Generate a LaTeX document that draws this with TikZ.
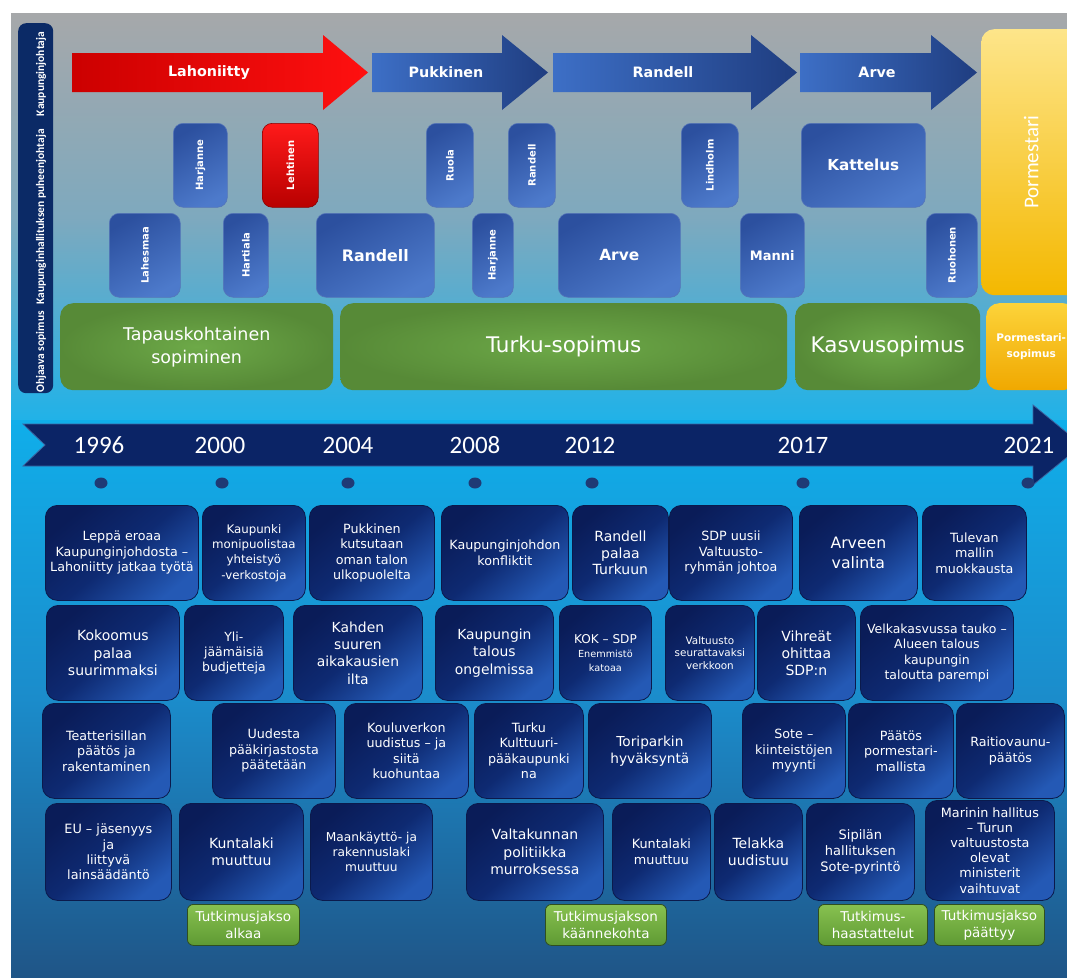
\documentclass[tikz,border=0pt]{standalone}
\usepackage{fontspec}
\setmainfont{DejaVu Sans}
\newfontfamily\calfont{Carlito}
\usetikzlibrary{shapes.geometric}

\definecolor{bgtop}{HTML}{A6A8AA}
\definecolor{bgmid}{HTML}{7EA9BE}
\definecolor{bgcyan}{HTML}{20B2E8}
\definecolor{bgcyantwo}{HTML}{10AEEA}
\definecolor{bglow}{HTML}{1B8CCB}
\definecolor{bgbottom}{HTML}{1F5587}
\definecolor{evdark}{HTML}{0A1C58}
\definecolor{evmid}{HTML}{0E2A72}
\definecolor{evlight}{HTML}{2459B5}
\definecolor{evedge}{HTML}{0B1A4C}
\definecolor{persontop}{HTML}{2C509F}
\definecolor{personbot}{HTML}{4D7ACB}
\definecolor{personedge}{HTML}{5575B8}
\definecolor{redtop}{HTML}{FF1A1A}
\definecolor{redbot}{HTML}{B80000}
\definecolor{reddeep}{HTML}{8A0000}
\definecolor{redleft}{HTML}{CC0000}
\definecolor{redright}{HTML}{FF1010}
\definecolor{blueleft}{HTML}{3D6FC6}
\definecolor{blueright}{HTML}{1F3D80}
\definecolor{pactin}{HTML}{6DA948}
\definecolor{pactout}{HTML}{578A37}
\definecolor{yeltop}{HTML}{FDE58A}
\definecolor{yelbot}{HTML}{F4B800}
\definecolor{yeltoptwo}{HTML}{FCD33A}
\definecolor{yelbottwo}{HTML}{F0A800}
\definecolor{phasetop}{HTML}{88C150}
\definecolor{phasebot}{HTML}{5E9A33}
\definecolor{phaseedge}{HTML}{2F4F20}
\definecolor{banddark}{HTML}{0B2466}
\definecolor{bandedge}{HTML}{3B63A0}
\definecolor{dotcol}{HTML}{1F3A75}
\definecolor{rolebarcol}{HTML}{0B2A66}

\newcommand{\evfont}{\fontsize{12.7}{15.5}\selectfont}

\tikzset{
  wh/.style 2 args={minimum width=#1pt, minimum height=#2pt},
  event/.style={draw=evedge, line width=0.8pt, rounded corners=12pt,
    top color=evdark, bottom color=evlight, middle color=evmid, shading angle=40,
    text=white, align=center, anchor=north west, inner sep=2pt, font=\evfont},
  person/.style={draw=personedge, line width=0.6pt, rounded corners=10pt,
    top color=persontop, bottom color=personbot, shading angle=30,
    text=white, align=center, anchor=north west, inner sep=1pt,
    font=\bfseries\fontsize{10}{12}\selectfont},
  redperson/.style={person, draw=reddeep, top color=redtop, bottom color=redbot},
  pact/.style={rounded corners=13pt, inner color=pactin, outer color=pactout,
    text=white, align=center, anchor=north west, font=\fontsize{17.5}{23}\selectfont},
  mayor/.style={rounded corners=13pt, top color=yeltop, bottom color=yelbot,
    text=white, align=center, anchor=north west},
  arrowtext/.style={text=white, font=\bfseries\fontsize{14.3}{16}\selectfont},
  year/.style={text=white, font=\calfont\fontsize{25}{25}\selectfont},
  dot/.style={ellipse, fill=dotcol, minimum width=13pt, minimum height=11pt, inner sep=0pt},
  phase/.style={draw=phaseedge, line width=0.8pt, rounded corners=6pt,
    top color=phasetop, bottom color=phasebot, text=white, align=center,
    anchor=north west, inner sep=1pt, font=\fontsize{13.5}{17}\selectfont},
  rolelabel/.style={text=white, font=\calfont\bfseries\fontsize{11.5}{12}\selectfont},
}

\begin{document}
\begin{tikzpicture}[x=1pt, y=-1pt]
\useasboundingbox (0,0) rectangle (1067,977);
\begin{scope}
\clip (11,13) rectangle (1067,977);
% background
\shade[top color=bgtop, bottom color=bgcyan, middle color=bgmid] (11,13) rectangle (1067,421);
\shade[top color=bgcyantwo, bottom color=bgbottom, middle color=bglow] (11,420) rectangle (1067,977);

% role bar
\node[fill=rolebarcol, rounded corners=8pt, anchor=north west, wh={35}{370}] (rolebar) at (18,23) {};
\node[rolelabel, rotate=90] (lbljohtaja) at (41,74) {Kaupunginjohtaja};
\node[rolelabel, rotate=90] (lblpj) at (41,217) {Kaupunginhallituksen puheenjohtaja};
\node[rolelabel, rotate=90] (lblsopimus) at (41,352) {Ohjaava sopimus};

% mayors
\path[left color=redleft, right color=redright] (72,53) -- (323,53) -- (323,35) -- (368,72.5) -- (323,110) -- (323,92) -- (72,92) -- cycle;
\path[left color=blueleft, right color=blueright] (372,53) -- (502,53) -- (502,35) -- (548,72.5) -- (502,110) -- (502,92) -- (372,92) -- cycle;
\path[left color=blueleft, right color=blueright] (553,53) -- (751,53) -- (751,35) -- (797,72.5) -- (751,110) -- (751,92) -- (553,92) -- cycle;
\path[left color=blueleft, right color=blueright] (800,53) -- (931,53) -- (931,35) -- (977,72.5) -- (931,110) -- (931,92) -- (800,92) -- cycle;
\node[arrowtext] (lahoniitty) at (209,72.5) {Lahoniitty};
\node[arrowtext] (pukkinen) at (446,72.5) {Pukkinen};
\node[arrowtext] (randell) at (663,72.5) {Randell};
\node[arrowtext] (arve) at (877,72.5) {Arve};

\node[mayor, wh={100}{266}, font=\calfont\fontsize{21}{21}\selectfont] (pormestari) at (981,29) {\rotatebox{90}{Pormestari}};

% chairs
\node[person, wh={54}{84}] (harjanne) at (173,123) {\rotatebox{90}{Harjanne}};
\node[redperson, wh={56}{84}] (lehtinen) at (262,123) {\rotatebox{90}{Lehtinen}};
\node[person, wh={47}{84}] (ruola) at (426,123) {\rotatebox{90}{Ruola}};
\node[person, wh={47}{84}] (randellpj) at (508,123) {\rotatebox{90}{Randell}};
\node[person, wh={57}{84}] (lindholm) at (681,123) {\rotatebox{90}{Lindholm}};
\node[person, wh={124}{84}, font=\bfseries\fontsize{15.2}{17}\selectfont] (kattelus) at (801,123) {Kattelus};
\node[person, wh={71}{84}] (lahesmaa) at (109,213) {\rotatebox{90}{Lahesmaa}};
\node[person, wh={45}{84}] (hartiala) at (223,213) {\rotatebox{90}{Hartiala}};
\node[person, wh={118}{84}, font=\bfseries\fontsize{15.8}{17}\selectfont] (randellb) at (316,213) {Randell};
\node[person, wh={41}{84}] (harjanneb) at (472,213) {\rotatebox{90}{Harjanne}};
\node[person, wh={122}{84}, font=\bfseries\fontsize{15.4}{17}\selectfont] (arveb) at (558,213) {Arve};
\node[person, wh={64}{84}, font=\bfseries\fontsize{13}{15}\selectfont] (manni) at (740,213) {Manni};
\node[person, wh={51}{84}] (ruohonen) at (926,213) {\rotatebox{90}{Ruohonen}};

% pacts
\node[pact, wh={273}{87}] (tapaus) at (60,303) {Tapauskohtainen\\sopiminen};
\node[pact, wh={447}{87}, font=\fontsize{21.5}{25}\selectfont] (turku) at (340,303) {Turku-sopimus};
\node[pact, wh={185}{87}, font=\fontsize{21.5}{25}\selectfont] (kasvu) at (795,303) {Kasvusopimus};
\node[mayor, top color=yeltoptwo, bottom color=yelbottwo, wh={90}{87},
  font=\bfseries\fontsize{10.5}{16}\selectfont] (pormsop) at (986,303) {Pormestari-\\sopimus};

% timeline
\path[draw=bandedge, fill=banddark, line width=0.8pt] (23,424) -- (1033,424) -- (1033,405) -- (1082,445) -- (1033,485) -- (1033,466) -- (23,466) -- (45,445) -- cycle;
\foreach \yr/\xpos/\dx in {1996/99/101, 2000/220/222, 2004/348/348, 2008/475/475, 2012/590/592, 2017/803/803, 2021/1029/1028}{
  \node[year] (y\yr) at (\xpos,445) {\yr};
  \node[dot] (d\yr) at (\dx,483) {};
}

% events
\node[event, wh={153}{95}] (leppa) at (45,505) {Leppä eroaa\\Kaupunginjohdosta –\\Lahoniitty jatkaa työtä};
\node[event, wh={103}{95}, font=\fontsize{11.8}{15.3}\selectfont] (verkostot) at (202,505) {Kaupunki\\monipuolistaa\\yhteistyö\\-verkostoja};
\node[event, wh={125}{95}] (kutsu) at (309,505) {Pukkinen\\kutsutaan\\oman talon\\ulkopuolelta};
\node[event, wh={127}{95}] (konflikti) at (441,505) {Kaupunginjohdon\\konfliktit};
\node[event, wh={96}{95}, font=\fontsize{14}{16.7}\selectfont] (palaa) at (572,505) {Randell\\palaa\\Turkuun};
\node[event, wh={123}{95}] (sdpjohto) at (669,505) {SDP uusii\\Valtuusto-\\ryhmän johtoa};
\node[event, wh={118}{95}, font=\fontsize{15.7}{20}\selectfont] (valinta) at (799,505) {Arveen\\valinta};
\node[event, wh={104}{95}] (muokkaus) at (922,505) {Tulevan\\mallin\\muokkausta};

\node[event, wh={133}{95}, font=\fontsize{14}{17.5}\selectfont] (kokoomus) at (46,605) {Kokoomus\\palaa\\suurimmaksi};
\node[event, wh={99}{95}, font=\fontsize{12.5}{15}\selectfont] (budjetit) at (184,605) {Yli-\\jäämäisiä\\budjetteja};
\node[event, wh={129}{95}, font=\fontsize{13.9}{17.3}\selectfont] (kahden) at (293,605) {Kahden\\suuren\\aikakausien\\ilta};
\node[event, wh={118}{95}, font=\fontsize{13.9}{17.3}\selectfont] (talous) at (435,605) {Kaupungin\\talous\\ongelmissa};
\node[event, wh={92}{95}, font=\fontsize{9.7}{14}\selectfont] (koksdp) at (559,605) {{\fontsize{12.1}{14}\selectfont KOK – SDP}\\Enemmistö\\katoaa};
\node[event, wh={89}{95}, font=\fontsize{10.4}{12.7}\selectfont] (seuranta) at (665,605) {Valtuusto\\seurattavaksi\\verkkoon};
\node[event, wh={98}{95}, font=\fontsize{14}{17}\selectfont] (vihreat) at (757,605) {Vihreät\\ohittaa\\SDP:n};
\node[event, wh={153}{95}, font=\fontsize{12.5}{15.3}\selectfont] (velka) at (860,605) {Velkakasvussa tauko –\\Alueen talous\\kaupungin\\taloutta parempi};

\node[event, wh={128}{95}] (teatteri) at (42,703) {Teatterisillan\\päätös ja\\rakentaminen};
\node[event, wh={123}{95}] (kirjasto) at (212,703) {Uudesta\\pääkirjastosta\\päätetään};
\node[event, wh={124}{95}] (kouluverkko) at (344,703) {Kouluverkon\\uudistus – ja\\siitä\\kuohuntaa};
\node[event, wh={109}{95}] (kulttuuri) at (474,703) {Turku\\Kulttuuri-\\pääkaupunki\\na};
\node[event, wh={123}{95}, font=\fontsize{13.7}{17.3}\selectfont] (toriparkki) at (588,703) {Toriparkin\\hyväksyntä};
\node[event, wh={103}{95}] (sote) at (742,703) {Sote –\\kiinteistöjen\\myynti};
\node[event, wh={105}{95}] (malli) at (848,703) {Päätös\\pormestari-\\mallista};
\node[event, wh={108}{95}] (raitio) at (956,703) {Raitiovaunu-\\päätös};

\node[event, wh={126}{97}, font=\fontsize{12.8}{15.2}\selectfont] (eu) at (45,803) {EU – jäsenyys\\ja\\liittyvä\\lainsäädäntö};
\node[event, wh={124}{97}, font=\fontsize{14}{17}\selectfont] (kuntalaki) at (179,803) {Kuntalaki\\muuttuu};
\node[event, wh={122}{97}, font=\fontsize{12.2}{15}\selectfont] (maankaytto) at (310,803) {Maankäyttö- ja\\rakennuslaki\\muuttuu};
\node[event, wh={137}{97}, font=\fontsize{14}{17.3}\selectfont] (murros) at (466,803) {Valtakunnan\\politiikka\\murroksessa};
\node[event, wh={98}{97}, font=\fontsize{12.8}{16}\selectfont] (kuntalakib) at (612,803) {Kuntalaki\\muuttuu};
\node[event, wh={88}{97}, font=\fontsize{14}{17.7}\selectfont] (telakka) at (714,803) {Telakka\\uudistuu};
\node[event, wh={108}{97}, font=\fontsize{13}{16}\selectfont] (sipila) at (806,803) {Sipilän\\hallituksen\\Sote-pyrintö};
\node[event, wh={129}{100}, font=\fontsize{12.8}{15.2}\selectfont] (marin) at (925,800) {Marinin hallitus\\– Turun\\valtuustosta\\olevat\\ministerit\\vaihtuvat};

% research phases
\node[phase, wh={112}{41}] (alkaa) at (187,904) {Tutkimusjakso\\alkaa};
\node[phase, wh={121}{41}] (kaanne) at (545,904) {Tutkimusjakson\\käännekohta};
\node[phase, wh={109}{41}] (haastattelut) at (818,904) {Tutkimus-\\haastattelut};
\node[phase, wh={110}{41}] (paattyy) at (934,904) {Tutkimusjakso\\päättyy};
\end{scope}
\end{tikzpicture}
\end{document}
